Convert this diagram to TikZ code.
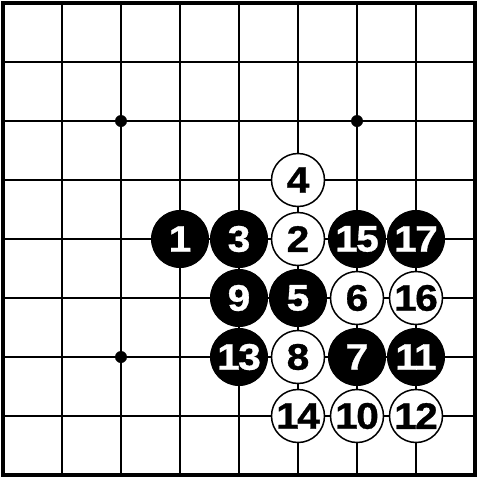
\documentclass[tikz,border=0pt]{standalone}
\usepackage{graphicx}
\usepackage{fontspec}
\setmainfont{Liberation Sans}
\newfontfamily\stonefont{Liberation Sans}[UprightFont=*-Bold, FakeBold=0.8, LetterSpace=-4]
\newcommand{\stonelabel}[1]{\scalebox{1.1}[1]{#1}}
\begin{document}
\begin{tikzpicture}[x=1pt,y=-1pt,
  blackstone/.style={circle,fill=black,draw=black,line width=1pt,minimum size=57pt,inner sep=0pt,text=white,font=\fontsize{37}{37}\stonefont},
  whitestone/.style={circle,fill=white,draw=black,line width=1.5pt,minimum size=53pt,inner sep=0pt,text=black,font=\fontsize{37}{37}\stonefont},
  gridline/.style={line width=1.5pt},
  borderline/.style={line width=4pt},
  starpt/.style={circle,fill=black,inner sep=0pt,minimum size=12pt}]
\useasboundingbox (0,0) rectangle (480,480);
\fill[white] (0,0) rectangle (480,480);
\foreach \i in {1,...,7} {
  \draw[gridline] (3+59*\i,3) -- (3+59*\i,475);
  \draw[gridline] (3,3+59*\i) -- (475,3+59*\i);
}
\draw[borderline] (3,3) rectangle (475,475);
\node[starpt] (s1) at (121,121) {};
\node[starpt] (s2) at (357,121) {};
\node[starpt] (s3) at (121,357) {};
\newcommand{\bst}[3]{\node[blackstone] (m#3) at (3+59*#1,3+59*#2) {\stonelabel{#3}};}
\newcommand{\wst}[3]{\node[whitestone] (m#3) at (3+59*#1,3+59*#2) {\stonelabel{#3}};}
\wst{5}{3}{4}
\bst{3}{4}{1}
\bst{4}{4}{3}
\wst{5}{4}{2}
\bst{6}{4}{15}
\bst{7}{4}{17}
\bst{4}{5}{9}
\bst{5}{5}{5}
\wst{6}{5}{6}
\wst{7}{5}{16}
\bst{4}{6}{13}
\wst{5}{6}{8}
\bst{6}{6}{7}
\bst{7}{6}{11}
\wst{5}{7}{14}
\wst{6}{7}{10}
\wst{7}{7}{12}
\end{tikzpicture}
\end{document}
